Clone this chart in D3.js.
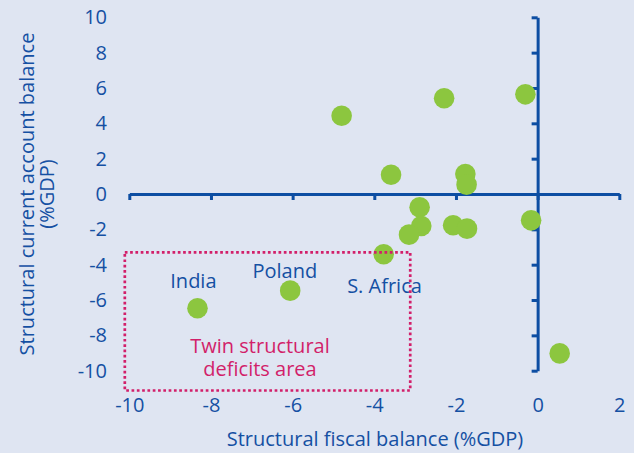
<!DOCTYPE html>
<html>
<head>
<meta charset="utf-8">
<script src="https://cdn.jsdelivr.net/npm/d3@7"></script>
<style>
  html, body { margin: 0; padding: 0; background: #dfe5f2; }
  svg { display: block; }
  text { font-family: "Open Sans", sans-serif; }
</style>
</head>
<body>
<svg id="chart" width="634" height="453"></svg>
<script>
// Data
const fiscal  = [-4.80, -2.29, -0.30, -3.59, -1.77, -1.74, -2.89, -2.85, -3.15, -2.07, -1.73, -0.16, -3.77, -6.06, -8.33, 0.54];
const current = [ 4.43,  5.42,  5.64,  1.09,  1.13,  0.53, -0.75, -1.81, -2.30, -1.77, -1.96, -1.49, -3.41, -5.47, -6.47, -9.02];
const countryLabels = [
  { name: "India",     x: -8.43, y: -5.30 },
  { name: "Poland",    x: -6.19, y: -4.76 },
  { name: "S. Africa", x: -3.75, y: -5.63 }
];
const xTicks = [-10, -8, -6, -4, -2, 0, 2];
const yTicks = [10, 8, 6, 4, 2, 0, -2, -4, -6, -8, -10];
const twinBox = { x0: -10.11, x1: -3.12, y0: -3.30, y1: -11.12 };
const twinText = ["Twin structural", "deficits area"];
const xTitle = "Structural fiscal balance (%GDP)";
const yTitle = ["Structural current account balance", "(%GDP)"];

const blue = "#0d4ea3";
const textBlue = "#1550a3";
const green = "#8cc63f";
const magenta = "#d21f6a";
const FS = 20;

const svg = d3.select("#chart");
const x = d3.scaleLinear().domain([-10, 2]).range([129.3, 619.3]);
const y = d3.scaleLinear().domain([-10, 10]).range([370.7, 17.3]);

// X axis (line + ticks) at y=0
const xAxis = svg.append("g")
  .attr("transform", `translate(0,${y(0)})`)
  .call(d3.axisBottom(x).tickValues(xTicks).tickSize(6).tickSizeOuter(0).tickFormat(""));
// Y axis (line + ticks) at x=0
const yAxis = svg.append("g")
  .attr("transform", `translate(${x(0)},0)`)
  .call(d3.axisLeft(y).tickValues(yTicks).tickSize(6).tickSizeOuter(0).tickFormat(""));
[xAxis, yAxis].forEach(g => {
  g.select(".domain").attr("stroke", blue).attr("stroke-width", 3);
  g.selectAll(".tick line").attr("stroke", blue).attr("stroke-width", 3);
});

// Tick labels placed outside the plot
const xLab = svg.append("g")
  .attr("transform", "translate(0,398)")
  .call(d3.axisBottom(x).tickValues(xTicks).tickSize(0).tickPadding(0).tickFormat(d => d));
xLab.select(".domain").remove();
xLab.selectAll("text").attr("fill", textBlue).attr("font-size", FS).attr("font-family", "Open Sans");

const yLab = svg.append("g")
  .attr("transform", "translate(107,0)")
  .call(d3.axisLeft(y).tickValues(yTicks).tickSize(0).tickPadding(0).tickFormat(d => d));
yLab.select(".domain").remove();
yLab.selectAll("text").attr("fill", textBlue).attr("font-size", FS).attr("font-family", "Open Sans");

// Points
svg.append("g").selectAll("circle")
  .data(fiscal.map((f, i) => ({ f, c: current[i] })))
  .join("circle")
  .attr("cx", d => x(d.f))
  .attr("cy", d => y(d.c))
  .attr("r", 10.3)
  .attr("fill", green);

// Country labels
svg.append("g").selectAll("text")
  .data(countryLabels)
  .join("text")
  .attr("x", d => x(d.x))
  .attr("y", d => y(d.y))
  .attr("text-anchor", "middle")
  .attr("fill", textBlue)
  .attr("font-size", FS)
  .text(d => d.name);

// Twin deficits box
svg.append("rect")
  .attr("x", x(twinBox.x0))
  .attr("y", y(twinBox.y0))
  .attr("width", x(twinBox.x1) - x(twinBox.x0))
  .attr("height", y(twinBox.y1) - y(twinBox.y0))
  .attr("fill", "none")
  .attr("stroke", magenta)
  .attr("stroke-width", 2.7)
  .attr("stroke-dasharray", "2.7,2.6");

svg.append("text")
  .attr("x", 260).attr("y", 353)
  .attr("text-anchor", "middle")
  .attr("fill", magenta)
  .attr("font-size", FS)
  .selectAll("tspan")
  .data(twinText)
  .join("tspan")
  .attr("x", 260)
  .attr("dy", (d, i) => i === 0 ? 0 : 23)
  .text(d => d);

// Axis titles
svg.append("text")
  .attr("x", 375).attr("y", 446)
  .attr("text-anchor", "middle")
  .attr("fill", textBlue)
  .attr("font-size", FS)
  .text(xTitle);

svg.append("g")
  .attr("transform", "translate(0,194) rotate(-90)")
  .selectAll("text")
  .data(yTitle)
  .join("text")
  .attr("x", 0)
  .attr("y", (d, i) => 34 + i * 20)
  .attr("text-anchor", "middle")
  .attr("fill", textBlue)
  .attr("font-size", FS)
  .text(d => d);
</script>
</body>
</html>
